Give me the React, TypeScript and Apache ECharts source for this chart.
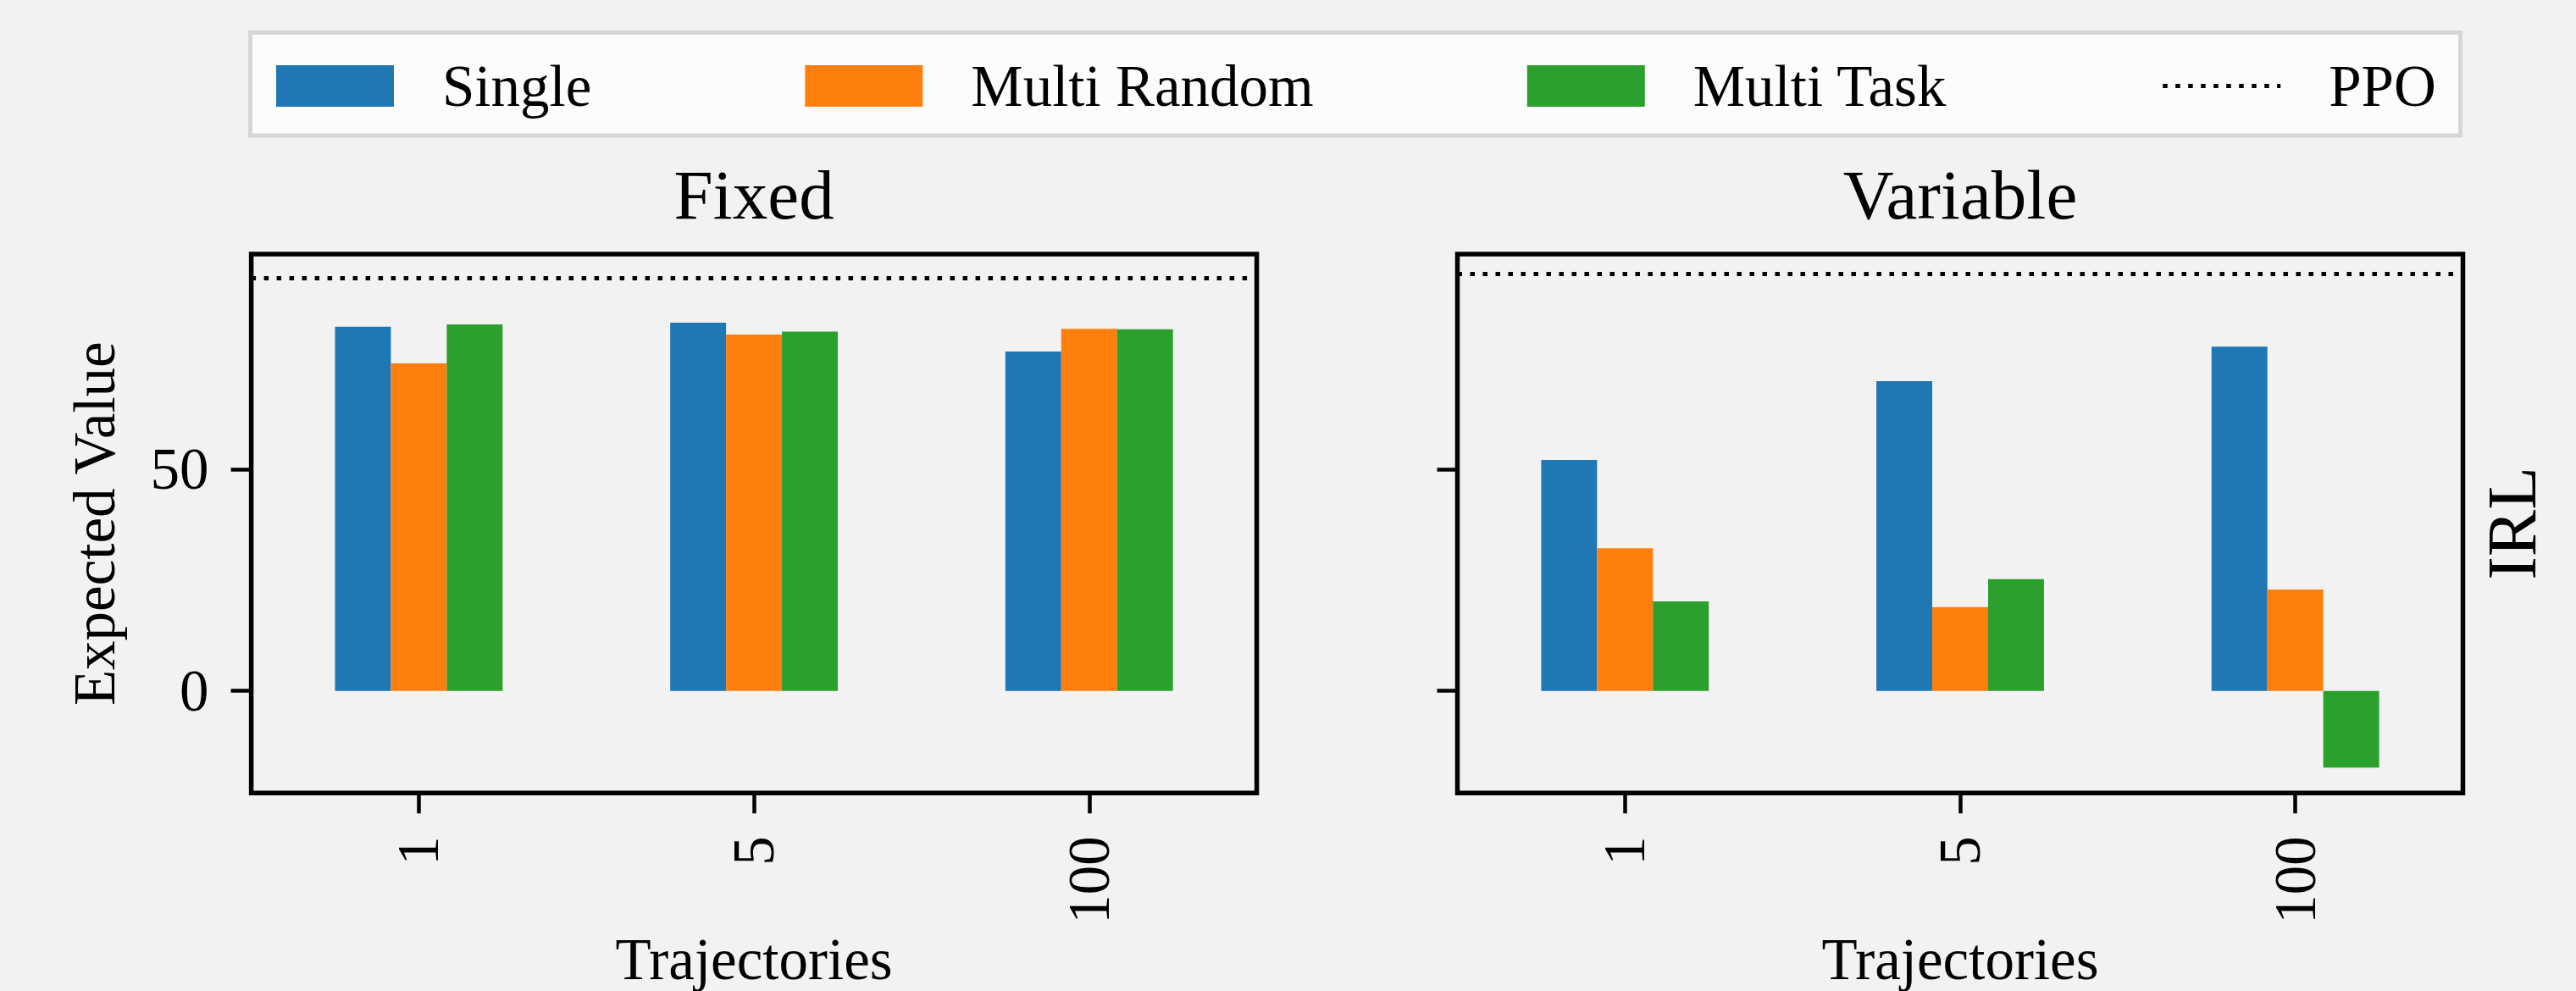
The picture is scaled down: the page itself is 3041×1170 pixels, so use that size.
import React, { useEffect, useRef } from "react";
import * as echarts from "echarts";

const categories = ["1", "5", "100"];
const seriesNames = ["Single", "Multi Random", "Multi Task"];
const seriesColors = ["#1f77b4", "#ff7f0e", "#2ca02c"];

const fixedSingle = [82.2, 83.1, 76.6];
const fixedMultiRandom = [73.9, 80.4, 81.7];
const fixedMultiTask = [82.7, 81.1, 81.6];

const variableSingle = [52.1, 69.9, 77.7];
const variableMultiRandom = [32.2, 18.9, 22.9];
const variableMultiTask = [20.2, 25.2, -17.3];

const ppoFixed = 93.2;
const ppoVariable = 94.2;

const yTicks = [0, 50];
const yMin = -23.05;
const yMax = 98.55;

const panelTitles = ["Fixed", "Variable"];
const xAxisName = "Trajectories";
const yAxisName = "Expected Value";
const rowLabel = "IRL";
const ppoName = "PPO";

const FONT = "'Liberation Serif', 'DejaVu Serif', serif";

export default function App() {
  const ref = useRef<HTMLDivElement>(null);

  useEffect(() => {
    if (!ref.current) return;
    const chart = echarts.init(ref.current, undefined, { renderer: "svg" });

    const grids = [
      { left: 296.6, top: 300.1, width: 1187, height: 636.2 },
      { left: 1720.5, top: 300.1, width: 1187, height: 636.2 },
    ];
    const panelData = [
      [fixedSingle, fixedMultiRandom, fixedMultiTask],
      [variableSingle, variableMultiRandom, variableMultiTask],
    ];
    const ppoValues = [ppoFixed, ppoVariable];
    const dotted = [5.5, 9.5];

    const series: any[] = [];
    panelData.forEach((sets, gi) => {
      sets.forEach((vals, si) => {
        series.push({
          type: "bar",
          name: seriesNames[si],
          xAxisIndex: gi,
          yAxisIndex: gi,
          data: vals,
          barGap: "0%",
          barCategoryGap: "50%",
          itemStyle: { color: seriesColors[si] },
          silent: true,
        });
      });
      series.push({
        type: "line",
        name: ppoName,
        xAxisIndex: gi,
        yAxisIndex: gi,
        data: categories.map(() => null),
        symbol: "none",
        lineStyle: { color: "#000", width: 5, type: dotted },
        itemStyle: { color: "#000" },
        silent: true,
        markLine: {
          silent: true,
          symbol: ["none", "none"],
          label: { show: false },
          lineStyle: { color: "#000", width: 5, type: dotted },
          data: [{ yAxis: ppoValues[gi] }],
        },
      });
    });

    const option: any = {
      animation: false,
      backgroundColor: "#f2f2f2",
      textStyle: { fontFamily: FONT },
      title: panelTitles.map((t, i) => ({
        text: t,
        left: grids[i].left + grids[i].width / 2,
        top: 188,
        padding: 0,
        textAlign: "center",
        textVerticalAlign: "top",
        textStyle: { fontFamily: FONT, fontSize: 83, fontWeight: "normal", color: "#000" },
      })),
      legend: {
        left: 326,
        top: 67,
        padding: 0,
        itemGap: 252,
        itemWidth: 139,
        itemHeight: 49,
        selectedMode: false,
        z: 10,
        textStyle: {
          fontFamily: FONT,
          fontSize: 69,
          color: "#000",
          lineHeight: 49,
          padding: [0, 0, 0, 52],
        },
        data: [
          ...seriesNames.map((n) => ({ name: n, icon: "rect" })),
          {
            name: ppoName,
            itemStyle: { opacity: 0, color: "rgba(0,0,0,0)", borderWidth: 0 },
            lineStyle: { color: "#000", width: 5, type: dotted },
          },
        ],
      },
      graphic: [
        {
          type: "rect",
          z: 0,
          silent: true,
          shape: { x: 295.5, y: 38.5, width: 2609, height: 121.5 },
          style: { fill: "#fcfcfc", stroke: "#d6d6d6", lineWidth: 5 },
        },
        {
          type: "text",
          x: 2965,
          y: 618,
          rotation: Math.PI / 2,
          silent: true,
          style: {
            text: rowLabel,
            fontFamily: FONT,
            fontSize: 83,
            fill: "#000",
            textAlign: "center",
            textVerticalAlign: "middle",
          },
        },
      ],
      grid: grids.map((g) => ({
        ...g,
        show: true,
        borderColor: "#000",
        borderWidth: 5.5,
        backgroundColor: "transparent",
        containLabel: false,
        outerBoundsMode: "none",
      })),
      xAxis: grids.map((_, i) => ({
        type: "category",
        gridIndex: i,
        data: categories,
        name: xAxisName,
        nameLocation: "middle",
        nameGap: 154,
        nameTextStyle: { fontFamily: FONT, fontSize: 69, color: "#000" },
        axisLine: { show: false, onZero: false },
        axisTick: { show: true, alignWithLabel: true, inside: false, length: 24, lineStyle: { color: "#000", width: 4.5 } },
        axisLabel: { rotate: 90, margin: 51, fontFamily: FONT, fontSize: 69, color: "#000" },
        splitLine: { show: false },
      })),
      yAxis: grids.map((_, i) => ({
        type: "value",
        gridIndex: i,
        min: yMin,
        max: yMax,
        name: i === 0 ? yAxisName : "",
        nameLocation: "middle",
        nameGap: 150,
        nameTextStyle: { fontFamily: FONT, fontSize: 69, color: "#000" },
        axisLine: { show: false },
        axisTick: { show: true, inside: false, length: 24, customValues: yTicks, lineStyle: { color: "#000", width: 4.5 } },
        axisLabel: {
          show: i === 0,
          customValues: yTicks,
          margin: 50,
          fontFamily: FONT,
          fontSize: 69,
          color: "#000",
        },
        splitLine: { show: false },
      })),
      series,
    };

    chart.setOption(option);
    return () => chart.dispose();
  }, []);

  return (
    <div
      ref={ref}
      style={{ position: "fixed", left: 0, top: 0, width: 3041, height: 1170 }}
    />
  );
}
